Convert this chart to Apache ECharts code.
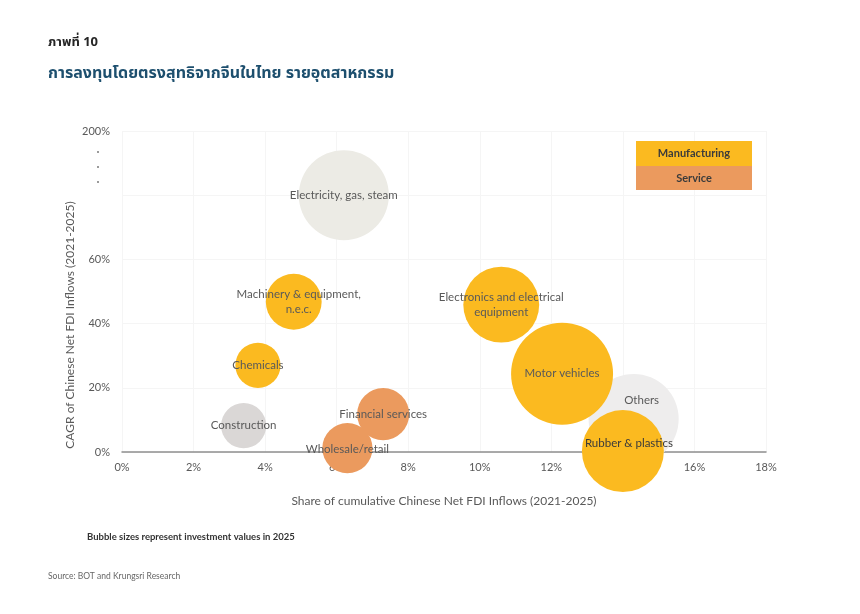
<!DOCTYPE html>
<html>
<head>
<meta charset="utf-8">
<title>การลงทุนโดยตรงสุทธิจากจีนในไทย รายอุตสาหกรรม</title>
<script src="https://cdn.jsdelivr.net/npm/echarts@6/dist/echarts.min.js"></script>
<style>
  html, body { margin: 0; padding: 0; background: #fff; }
  #chart { width: 860px; height: 614px; }
</style>
</head>
<body>
<div id="chart"></div>
<script>
// ข้อมูลอ่านจากภาพ
// แกน Y ถูกตัด (60% -> 200%) ค่า y ของไฟฟ้าฯ จึงเป็นตำแหน่งบนแกนที่ถูกตัด
const industries = [
  'Others', 'Electricity, gas, steam', 'Construction', 'Chemicals',
  'Machinery & equipment,\nn.e.c.', 'Financial services', 'Wholesale/retail',
  'Electronics and electrical\nequipment', 'Motor vehicles', 'Rubber & plastics'
]
const sectors = [
  'Other', 'Utility', 'Construction', 'Manufacturing',
  'Manufacturing', 'Service', 'Service',
  'Manufacturing', 'Manufacturing', 'Manufacturing'
]
// share of cumulative Chinese net FDI inflows 2021-2025 (%)
const shareValues = [14.3, 6.2, 3.4, 3.8, 4.8, 7.3, 6.3, 10.6, 12.3, 14.0]
// CAGR 2021-2025 (%), plotted position
const cagrValues = [10.3, 80, 8.2, 27, 46.8, 11.8, 1.2, 45.9, 24.4, 0.3]
// investment values in 2025 (relative)
const investValues = [20.3, 20.3, 5.1, 5.1, 7.8, 6.8, 6.3, 14.4, 26.0, 16.8]

const yTickLabels = { 0: '0%', 20: '20%', 40: '40%', 60: '60%', 80: '', 100: '200%' }

const colors = {
  Manufacturing: '#FBBA20',
  Service: '#EB9A5E',
  Utility: '#ECEBE5',
  Construction: '#DAD7D6',
  Other: '#EEEDED'
}
const labelOffsets = {
  'Others': [8, -19],
  'Rubber & plastics': [6, -8],
  'Machinery & equipment,\nn.e.c.': [5, 0],
  'Wholesale/retail': [0, 1]
}

const txt = '#595959'
const font = 'Lato, "Open Sans", sans-serif'
const thaiFont = '"Noto Sans Thai", "Noto Sans", "DejaVu Sans", sans-serif'

const chart = echarts.init(document.getElementById('chart'))

const data = industries.map((name, i) => ({
  name,
  value: [shareValues[i], cagrValues[i], investValues[i]],
  itemStyle: { color: colors[sectors[i]] },
  label: {
    offset: labelOffsets[name] || [0, 0],
    color: name === 'Rubber & plastics' ? '#3a3a3a' : txt
  }
}))

chart.setOption({
  backgroundColor: '#fff',
  animation: false,
  grid: { left: 122, right: 94, top: 131, bottom: 162 },
  xAxis: {
    type: 'value',
    min: 0,
    max: 18,
    interval: 2,
    name: 'Share of cumulative Chinese Net FDI Inflows (2021-2025)',
    nameLocation: 'middle',
    nameGap: 43,
    nameTextStyle: { color: txt, fontSize: 12, fontFamily: font },
    axisLine: { onZero: true, lineStyle: { color: '#8f8f8f', width: 1.5 } },
    axisTick: { show: false },
    axisLabel: { color: txt, fontSize: 11, fontFamily: font, margin: 10, formatter: v => v + '%' },
    splitLine: { show: true, lineStyle: { color: '#f5f5f5' } }
  },
  yAxis: {
    type: 'value',
    min: 0,
    max: 100,
    interval: 20,
    axisLine: { show: false },
    axisTick: { show: false },
    axisLabel: { color: txt, fontSize: 11, fontFamily: font, margin: 12, formatter: v => yTickLabels[v] },
    splitLine: { show: true, lineStyle: { color: '#f5f5f5' } }
  },
  series: [{
    type: 'scatter',
    zlevel: 1,
    data,
    symbolSize: d => 20 * Math.sqrt(d[2]),
    itemStyle: { opacity: 1 },
    label: {
      show: true,
      position: 'inside',
      formatter: p => p.name,
      fontSize: 11.5,
      fontFamily: font,
      lineHeight: 15,
      align: 'center'
    },
    emphasis: { disabled: true }
  }],
  graphic: [
    { type: 'text', left: 48, top: 37, style: { text: 'ภาพที่ 10', fontSize: 13, fontWeight: 'bold', fill: '#262626', fontFamily: thaiFont } },
    { type: 'text', left: 48, top: 67, style: { text: 'การลงทุนโดยตรงสุทธิจากจีนในไทย รายอุตสาหกรรม', fontSize: 16, fontWeight: 'bold', fill: '#1d4f6e', fontFamily: thaiFont } },
    // y axis title
    { type: 'text', x: 70, y: 325, rotation: Math.PI / 2, style: { text: 'CAGR of Chinese Net FDI Inflows (2021-2025)', fontSize: 12, fill: txt, fontFamily: font, align: 'center', verticalAlign: 'middle' } },
    // axis break dots
    { type: 'circle', shape: { cx: 98, cy: 152, r: 1 }, style: { fill: '#7a7a7a' } },
    { type: 'circle', shape: { cx: 98, cy: 167, r: 1 }, style: { fill: '#7a7a7a' } },
    { type: 'circle', shape: { cx: 98, cy: 182, r: 1 }, style: { fill: '#7a7a7a' } },
    // legend
    { type: 'rect', zlevel: 1, shape: { x: 636, y: 141, width: 116, height: 25 }, style: { fill: colors.Manufacturing } },
    { type: 'text', zlevel: 1, x: 694, y: 153.5, style: { text: 'Manufacturing', fontSize: 11, fontWeight: 'bold', fill: '#3b3b3b', fontFamily: font, align: 'center', verticalAlign: 'middle' } },
    { type: 'rect', zlevel: 1, shape: { x: 636, y: 166, width: 116, height: 24 }, style: { fill: colors.Service } },
    { type: 'text', zlevel: 1, x: 694, y: 178, style: { text: 'Service', fontSize: 11, fontWeight: 'bold', fill: '#3b3b3b', fontFamily: font, align: 'center', verticalAlign: 'middle' } },
    // notes
    { type: 'text', left: 87, top: 532, style: { text: 'Bubble sizes represent investment values in 2025', fontSize: 9.5, fontWeight: 'bold', fill: '#333', fontFamily: font } },
    { type: 'text', left: 48, top: 572, style: { text: 'Source: BOT and Krungsri Research', fontSize: 8.5, fill: '#666', fontFamily: font } }
  ]
})
</script>
</body>
</html>
